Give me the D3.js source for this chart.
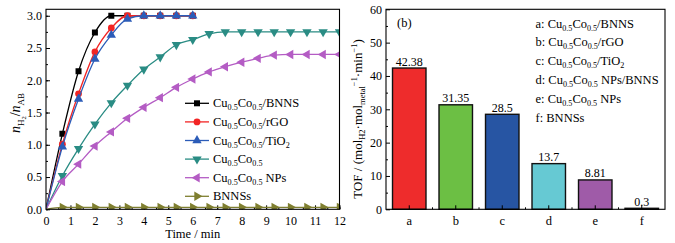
<!DOCTYPE html>
<html>
<head>
<meta charset="utf-8">
<script src="https://cdn.jsdelivr.net/npm/d3@7"></script>
<style>
body { margin: 0; background: #fff; }
svg, svg text { font-family: "Liberation Serif", "Times New Roman", serif; }
svg { display: block; }
</style>
</head>
<body>
<svg id="chart" width="675" height="243"></svg>
<script>
// ---- data, panel (a) ----
const times = [0, 0.67, 1.33, 2, 2.67, 3.33, 4, 4.67, 5.33, 6, 6.67, 7.33, 8, 8.67, 9.33, 10, 10.67, 11.33, 12];
const bnnsVals = [0, 1.17, 2.14, 2.74, 3.0, 3.0, 3.0, 3.0, 3.0, 3.0];
const rgoVals = [0, 1.01, 1.79, 2.44, 2.81, 3.0, 3.0, 3.0, 3.0, 3.0];
const tio2Vals = [0, 0.97, 1.71, 2.33, 2.70, 2.95, 3.0, 3.0, 3.0, 3.0];
const cucoVals = [0, 0.52, 0.94, 1.32, 1.65, 1.92, 2.17, 2.36, 2.55, 2.63, 2.72, 2.75, 2.75, 2.75, 2.75, 2.75, 2.75, 2.75, 2.75];
const npsVals = [0, 0.43, 0.70, 0.98, 1.20, 1.41, 1.58, 1.73, 1.89, 2.02, 2.13, 2.21, 2.28, 2.34, 2.39, 2.40, 2.40, 2.40, 2.40];
const bnnssVals = [0, 0.03, 0.03, 0.03, 0.03, 0.03, 0.03, 0.03, 0.03, 0.03, 0.03, 0.03, 0.03, 0.03, 0.03, 0.03, 0.03, 0.03, 0.03];
const seriesLabels = ['Cu_{0.5}Co_{0.5}/BNNS', 'Cu_{0.5}Co_{0.5}/rGO', 'Cu_{0.5}Co_{0.5}/TiO_{2}', 'Cu_{0.5}Co_{0.5}', 'Cu_{0.5}Co_{0.5} NPs', 'BNNSs'];
const seriesColors = ['#000000', '#f22424', '#2c5cb8', '#2a8c84', '#b45cc4', '#7f7f30'];
const xTicksA = [0, 1, 2, 3, 4, 5, 6, 7, 8, 9, 10, 11, 12];
const yTicksA = [0, 0.5, 1.0, 1.5, 2.0, 2.5, 3.0];

// ---- data, panel (b) ----
const cats = ['a', 'b', 'c', 'd', 'e', 'f'];
const tof = [42.38, 31.35, 28.5, 13.7, 8.81, 0.3];
const tofLabels = ['42.38', '31.35', '28.5', '13.7', '8.81', '0.3'];
const barColors = ['#ee2c2c', '#6cbf44', '#2755a3', '#66c9d3', '#9f5ba8', '#222222'];
const barLegend = ['a: Cu_{0.5}Co_{0.5}/BNNS', 'b: Cu_{0.5}Co_{0.5}/rGO', 'c: Cu_{0.5}Co_{0.5}/TiO_{2}', 'd: Cu_{0.5}Co_{0.5} NPs/BNNS', 'e: Cu_{0.5}Co_{0.5} NPs', 'f: BNNSs'];
const yTicksB = [0, 10, 20, 30, 40, 50, 60];

const svg = d3.select('#chart');
const serif = '"Liberation Serif", "Times New Roman", serif';

// rich text: _{..} subscript, ^{..} superscript
function rich(textSel, str, size) {
    const parts = str.match(/(_\{[^}]*\}|\^\{[^}]*\}|[^_^]+)/g);
    parts.forEach(p => {
        if (p[0] === '_') {
            textSel.append('tspan').attr('font-size', size * 0.65).attr('baseline-shift', -size * 0.22).text(p.slice(2, -1));
        } else if (p[0] === '^') {
            textSel.append('tspan').attr('font-size', size * 0.65).attr('baseline-shift', size * 0.4).text(p.slice(2, -1));
        } else {
            textSel.append('tspan').text(p);
        }
    });
}

function styleAxis(g, size) {
    g.attr('font-family', serif);
    g.select('.domain').remove();
    g.selectAll('text').attr('font-size', size).attr('fill', '#000');
}

// ================= panel (a) =================
const A = { left: 46, right: 339.5, top: 9.3, bottom: 209.3 };
const xA = d3.scaleLinear().domain([0, 12]).range([A.left, A.right]);
const yA = d3.scaleLinear().domain([0, 3.1]).range([A.bottom, A.top]);

const gA = svg.append('g');
svg.append('clipPath').attr('id', 'clipA').append('rect')
    .attr('x', A.left).attr('y', A.top).attr('width', A.right - A.left).attr('height', A.bottom - A.top);

// axes (inward ticks)
gA.append('g').attr('transform', `translate(0,${A.bottom})`)
    .call(d3.axisBottom(xA).tickValues(d3.range(0, 12.01, 0.5)).tickSize(-2).tickFormat(''))
    .call(g => g.select('.domain').remove());
gA.append('g').attr('transform', `translate(0,${A.bottom})`)
    .call(d3.axisBottom(xA).tickValues(xTicksA).tickSize(-4).tickPadding(7).tickFormat(d3.format('d')))
    .call(g => styleAxis(g, 12));
gA.append('g').attr('transform', `translate(${A.left},0)`)
    .call(d3.axisLeft(yA).tickValues(d3.range(0, 3.01, 0.25)).tickSize(-2).tickFormat(''))
    .call(g => g.select('.domain').remove());
gA.append('g').attr('transform', `translate(${A.left},0)`)
    .call(d3.axisLeft(yA).tickValues(yTicksA).tickSize(-4).tickPadding(4).tickFormat(d3.format('.1f')))
    .call(g => styleAxis(g, 12));

const seriesVals = [bnnsVals, rgoVals, tio2Vals, cucoVals, npsVals, bnnssVals];
const symbols = [
    { type: d3.symbolSquare, size: 36, rot: 0 },
    { type: d3.symbolCircle, size: 36, rot: 0 },
    { type: d3.symbolTriangle, size: 38, rot: 0 },
    { type: d3.symbolTriangle, size: 38, rot: 180 },
    { type: d3.symbolTriangle, size: 38, rot: -90 },
    { type: d3.symbolTriangle, size: 38, rot: 90 }
];
const line = d3.line().x(d => xA(d[0])).y(d => yA(d[1])).curve(d3.curveMonotoneX);
const plotA = gA.append('g').attr('clip-path', 'url(#clipA)');

seriesVals.forEach((vals, i) => {
    const pts = vals.map((v, k) => [times[k], v]);
    plotA.append('path').datum(pts).attr('d', line)
        .attr('fill', 'none').attr('stroke', seriesColors[i]).attr('stroke-width', 1.3);
    plotA.selectAll(null).data(pts.slice(1)).enter().append('path')
        .attr('d', d3.symbol().type(symbols[i].type).size(symbols[i].size))
        .attr('transform', d => `translate(${xA(d[0])},${yA(d[1])}) rotate(${symbols[i].rot})`)
        .attr('fill', seriesColors[i]);
});

// frame
gA.append('rect').attr('x', A.left).attr('y', A.top).attr('width', A.right - A.left).attr('height', A.bottom - A.top)
    .attr('fill', 'none').attr('stroke', '#000').attr('stroke-width', 1.1);

// legend
const legA = gA.append('g');
seriesLabels.forEach((lab, i) => {
    const cy = 103.3 + i * 18.6;
    legA.append('line').attr('x1', 185).attr('x2', 209).attr('y1', cy).attr('y2', cy)
        .attr('stroke', seriesColors[i]).attr('stroke-width', 1.3);
    legA.append('path').attr('d', d3.symbol().type(symbols[i].type).size(symbols[i].size))
        .attr('transform', `translate(197,${cy}) rotate(${symbols[i].rot})`).attr('fill', seriesColors[i]);
    const t = legA.append('text').attr('x', 213).attr('y', cy + 4).attr('font-size', 12.5).attr('fill', '#000');
    rich(t, lab, 12.5);
});

// axis titles
gA.append('text').attr('x', (A.left + A.right) / 2).attr('y', 237.5).attr('text-anchor', 'middle')
    .attr('font-size', 12.5).text('Time / min');
const yl = gA.append('text').attr('transform', 'translate(20,113) rotate(-90)').attr('text-anchor', 'middle').attr('font-size', 14);
yl.append('tspan').attr('font-style', 'italic').text('n');
yl.append('tspan').attr('font-size', 9).attr('baseline-shift', -3.5).text('H');
yl.append('tspan').attr('font-size', 6.5).attr('baseline-shift', -6).text('2');
yl.append('tspan').text('/');
yl.append('tspan').attr('font-style', 'italic').text('n');
yl.append('tspan').attr('font-size', 9).attr('baseline-shift', -3.5).text('AB');

// ================= panel (b) =================
const B = { left: 386, right: 665, top: 9.3, bottom: 209.3 };
const xB = d3.scaleBand().domain(cats).range([B.left, B.right]).paddingInner(0.28).paddingOuter(0.14);
const yB = d3.scaleLinear().domain([0, 60]).range([B.bottom, B.top]);
const gB = svg.append('g');

gB.append('g').attr('transform', `translate(${B.left},0)`)
    .call(d3.axisLeft(yB).tickValues(d3.range(5, 60, 10)).tickSize(-2).tickFormat(''))
    .call(g => g.select('.domain').remove());
gB.append('g').attr('transform', `translate(${B.left},0)`)
    .call(d3.axisLeft(yB).tickValues(yTicksB).tickSize(-4).tickPadding(4))
    .call(g => styleAxis(g, 12));

// bars
gB.selectAll('.bar').data(tof).enter().append('rect').attr('class', 'bar')
    .attr('x', (d, i) => xB(cats[i]))
    .attr('y', d => yB(d))
    .attr('width', xB.bandwidth())
    .attr('height', d => yB(0) - yB(d))
    .attr('fill', (d, i) => barColors[i])
    .attr('stroke', '#111').attr('stroke-width', 1.4);

gB.selectAll('.val').data(tof).enter().append('text').attr('class', 'val')
    .attr('x', (d, i) => xB(cats[i]) + xB.bandwidth() / 2)
    .attr('y', d => yB(d) - 2.5)
    .attr('text-anchor', 'middle').attr('font-size', 12)
    .text((d, i) => tofLabels[i]);

// x axis: category ticks + between-category minor ticks (inward)
gB.append('g').attr('transform', `translate(0,${B.bottom})`)
    .call(d3.axisBottom(xB).tickSize(-4).tickPadding(7))
    .call(g => styleAxis(g, 12.5));
gB.selectAll('.minor').data(cats.slice(1)).enter().append('line').attr('class', 'minor')
    .attr('x1', d => xB(d) - xB.step() * xB.paddingInner() / 2)
    .attr('x2', d => xB(d) - xB.step() * xB.paddingInner() / 2)
    .attr('y1', B.bottom).attr('y2', B.bottom - 2).attr('stroke', '#000');

gB.append('rect').attr('x', B.left).attr('y', B.top).attr('width', B.right - B.left).attr('height', B.bottom - B.top)
    .attr('fill', 'none').attr('stroke', '#000').attr('stroke-width', 1.1);

gB.append('text').attr('x', 397).attr('y', 27).attr('font-size', 12.5).text('(b)');

barLegend.forEach((lab, i) => {
    const t = gB.append('text').attr('x', 535.5).attr('y', 27.5 + i * 18.8).attr('font-size', 12.5);
    rich(t, lab, 12.5);
});

const yb = gB.append('text').attr('transform', 'translate(361.5,119) rotate(-90)').attr('text-anchor', 'middle').attr('font-size', 13);
rich(yb, 'TOF / (mol_{H2}·mol_{metal}^{−1}·min^{−1})', 13);
</script>
</body>
</html>
